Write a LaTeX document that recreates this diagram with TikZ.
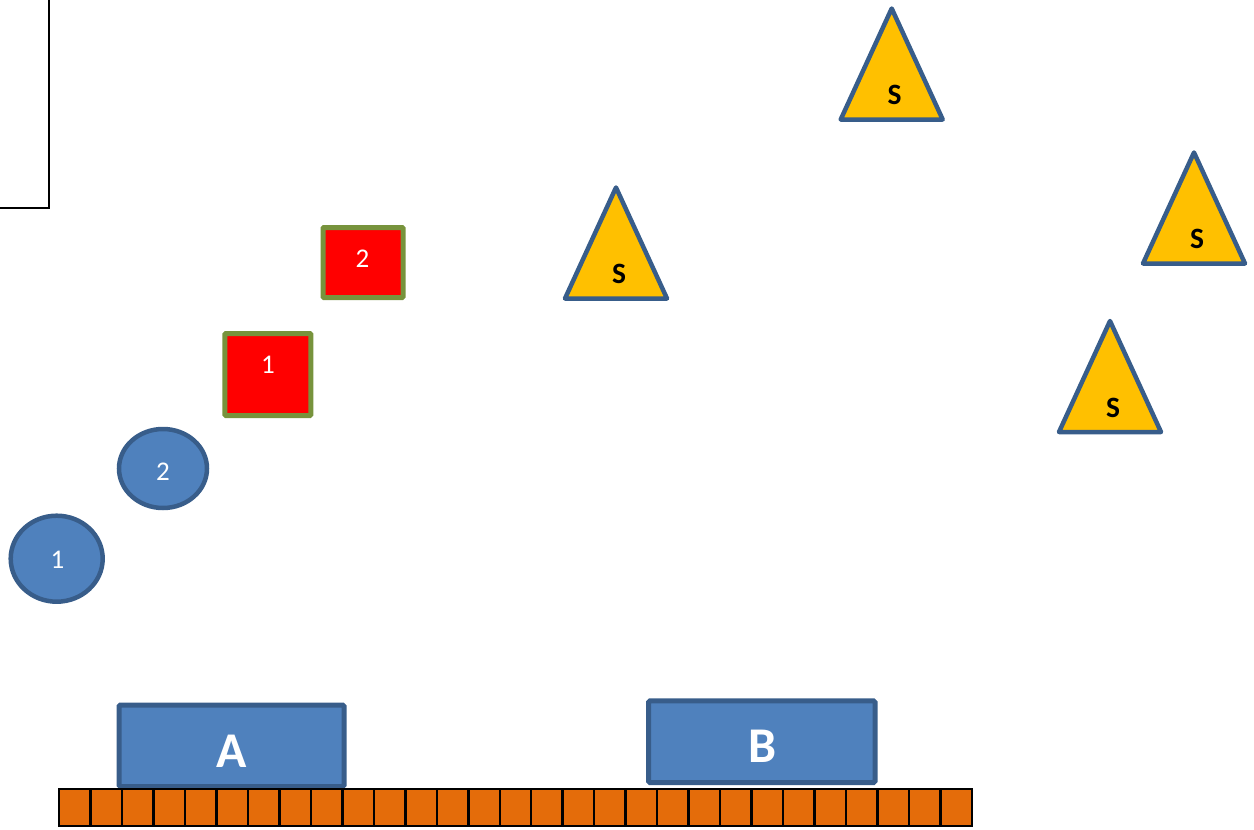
\documentclass[tikz,border=0pt]{standalone}
\usepackage{fontspec}
\setmainfont{Carlito}
\definecolor{bluefill}{HTML}{4F81BD}
\definecolor{blueline}{HTML}{385D8A}
\definecolor{redfill}{HTML}{FF0000}
\definecolor{greenline}{HTML}{77933C}
\definecolor{yellowfill}{HTML}{FFC000}
\definecolor{orangefill}{HTML}{E46C0A}
\tikzset{
  tri/.style={fill=yellowfill,draw=blueline,line width=4.5pt,line join=round},
  slabel/.style={inner sep=0pt,font=\fontsize{29.5}{30}\selectfont\bfseries,text=black},
  circ/.style={fill=bluefill,draw=blueline,line width=4.5pt},
  sq/.style={fill=redfill,draw=greenline,line width=5pt,rounded corners=1pt},
  numlabel/.style={inner sep=0pt,font=\fontsize{27}{28}\selectfont,text=white},
  bigbox/.style={fill=bluefill,draw=blueline,line width=5pt,rounded corners=1.5pt},
  biglabel/.style={inner sep=0pt,font=\fontsize{50}{50}\selectfont\bfseries,text=white},
  cell/.style={fill=orangefill,draw=black,line width=2.5pt},
  frameline/.style={draw=black,line width=2pt}
}
\begin{document}
\begin{tikzpicture}[x=1pt,y=-1pt]
\useasboundingbox (0,0) rectangle (1254,830);
% top-left frame corner
\coordinate (f1) at (48.5,0);
\coordinate (f2) at (48.5,207.5);
\coordinate (f3) at (0,207.5);
\draw[frameline] (f1) -- (f2) -- (f3);
% triangles
\foreach \n/\x/\y in {1/616/187.5, 2/891.7/8.5, 3/1194/152.5, 4/1110/321}{
  \draw[tri] (\x,\y) -- ++(51,111) -- ++(-102,0) -- cycle;
  \node[slabel] (s\n) at (\x+3,\y+86.5) {S};
}
% red squares
\draw[sq] (224.8,333.5) rectangle (310.8,415.5);
\node[numlabel] (q1) at (268,365) {1};
\draw[sq] (323,227.5) rectangle (403,297.5);
\node[numlabel] (q2) at (362.5,258.5) {2};
% circles
\draw[circ] (56.7,558.7) ellipse [x radius=46, y radius=43];
\node[numlabel] (c1) at (57.5,559.5) {1};
\draw[circ] (163,468.5) ellipse [x radius=44, y radius=39.5];
\node[numlabel] (c2) at (163,472) {2};
% boxes
\draw[bigbox] (119,705) rectangle (344,786.5);
\node[biglabel] (A) at (231.7,751.7) {A};
\draw[bigbox] (648.5,700.8) rectangle (875,782.5);
\node[biglabel] (B) at (763,746.7) {B};
% strip
\foreach \i in {0,...,28}{
  \draw[cell] (59+\i*31.483,789) rectangle ++(31.483,37);
}
\end{tikzpicture}
\end{document}
